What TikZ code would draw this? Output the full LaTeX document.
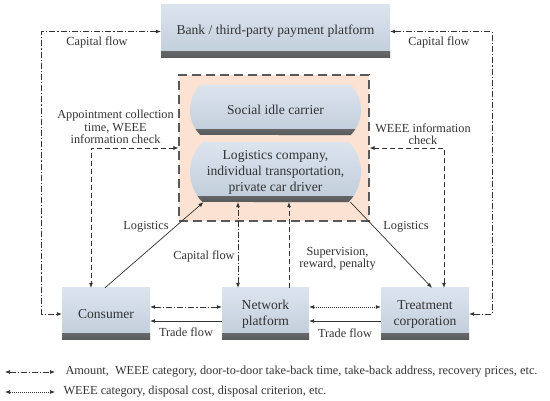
\documentclass[tikz,border=0pt]{standalone}
\usepackage{fontspec}
\setmainfont{Liberation Serif}
\usetikzlibrary{arrows.meta}
\usetikzlibrary{shapes.misc}
\definecolor{boxtop}{HTML}{DCE4EE}
\definecolor{boxbot}{HTML}{C0CCDA}
\definecolor{peach}{HTML}{FBE2D2}
\definecolor{inkgray}{HTML}{333333}

\begin{document}
\begin{tikzpicture}[x=1pt, y=-1pt, >={Latex[length=5pt,width=4pt]},
	every node/.style={text=inkgray, font=\fontsize{12.3}{12.5}\selectfont},
	box/.style={minimum width=88pt, minimum height=52pt, align=center, inner sep=2pt,
		top color=boxtop, bottom color=boxbot, font=\fontsize{13.6}{16}\selectfont,
		path picture={\shade[top color=boxbot, bottom color=black!65]
			([yshift=6pt]path picture bounding box.south west) rectangle (path picture bounding box.south east);}},
	barrel/.style={box, rounded rectangle, rounded rectangle arc length=90, minimum width=175pt},
	flowline/.style={line width=0.7pt, inkgray},
	cashline/.style={flowline, dash pattern=on 6pt off 2pt on 1.2pt off 2pt},
	infoline/.style={flowline, dash pattern=on 5pt off 3pt},
	dotline/.style={flowline, dash pattern=on 0.8pt off 1.2pt}]
	\useasboundingbox (0,0) rectangle (550,401);
	
	\node[box, minimum width=229pt, minimum height=53pt] (bank) at (275.5,31.5) {Bank / third-party payment platform};
	
	\node[draw=gray!70!black, fill=peach, line width=1.1pt, dash pattern=on 9pt off 5pt,
		minimum width=190pt, minimum height=146pt, inner sep=0pt] (fleet) at (274,148) {};
	\node[barrel, minimum height=50pt] (idle) at (275.5,110) {Social idle carrier};
	\node[barrel, minimum height=60pt] (logi) at (275.5,172)
	{Logistics company,\\individual transportation,\\private car driver};
	
	\node[box] (cons) at (106,314) {Consumer};
	\node[box, minimum width=87pt] (net) at (265.5,314) {Network\\platform};
	\node[box] (treat) at (425,314) {Treatment\\corporation};
	
	\coordinate (capnet) at ([xshift=-27.5pt]net.north);
	\coordinate (supnet) at ([xshift=23.5pt]net.north);
	
	\draw[cashline,<->] (bank.west) -| ([xshift=-20pt]cons.west) -- (cons.west);
	\draw[cashline,<->] (bank.east) -| ([xshift=23pt]treat.east) -- (treat.east);
	\draw[infoline,<->] (fleet.west |- 0,148) -| ([xshift=-15pt]cons.north);
	\draw[infoline,<->] (fleet.east |- 0,148) -| ([xshift=19pt]treat.north);
	\draw[flowline,->] ([xshift=-1pt]cons.north) -- ([xshift=-72pt]logi.south);
	\draw[flowline,->] ([xshift=75pt]logi.south) -- ([xshift=7pt]treat.north);
	\draw[cashline,<->] (capnet) -- (capnet |- logi.south);
	\draw[infoline,->] (supnet) -- (supnet |- logi.south);
	
	\draw[cashline,<->] ([yshift=7pt]cons.east) -- ([yshift=7pt]net.west);
	\draw[flowline,->] ([yshift=-7pt]net.west) -- ([yshift=-7pt]cons.east);
	\draw[dotline,<->] ([yshift=7pt]net.east) -- ([yshift=7pt]treat.west);
	\draw[flowline,->] ([yshift=-7pt]treat.west) -- ([yshift=-7pt]net.east);
	
	\node (cap1) at (97,42) {Capital flow};
	\node (cap2) at (439,42) {Capital flow};
	\node[align=center] (appt) at (115.5,127) {Appointment collection\\time, WEEE\\information check};
	\node[align=center] (chk) at (423,134) {WEEE information\\check};
	\node (log1) at (146,227) {Logistics};
	\node (log2) at (406,227) {Logistics};
	\node (cap3) at (204,256) {Capital flow};
	\node[align=center] (sup) at (337.5,259) {Supervision,\\reward, penalty};
	\node (tr1) at (186,332) {Trade flow};
	\node (tr2) at (345,333) {Trade flow};
	
	\coordinate (k1a) at (5,372);
	\coordinate (k1b) at (55,372);
	\coordinate (k2a) at (5,392);
	\coordinate (k2b) at (55,392);
	\draw[cashline,<->] (k1a) -- (k1b);
	\draw[dotline,<->] (k2a) -- (k2b);
	\node[anchor=west] (key1) at (62,372) {Amount,\ \ WEEE category, door-to-door take-back time, take-back address, recovery prices, etc.};
	\node[anchor=west] (key2) at (60,392) {WEEE category, disposal cost, disposal criterion, etc.};
\end{tikzpicture}
\end{document}
